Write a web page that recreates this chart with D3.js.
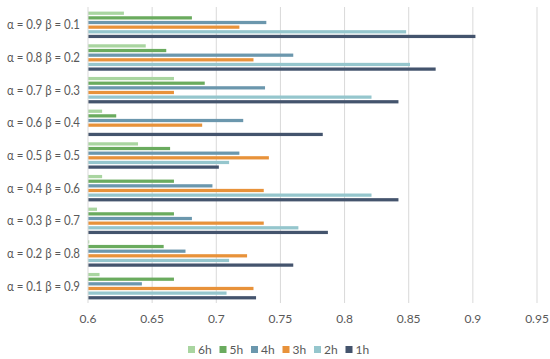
<!DOCTYPE html>
<html>
<head>
<meta charset="utf-8">
<script src="https://cdn.jsdelivr.net/npm/d3@7"></script>
<style>
    body { margin: 0; background: #fff; }
    svg { font-family: Lato, 'Liberation Sans', sans-serif; }
</style>
</head>
<body>
<div id="chart"></div>
<script>
// categories top to bottom
let groups = ['α = 0.9 β = 0.1', 'α = 0.8 β = 0.2', 'α = 0.7 β = 0.3', 'α = 0.6 β = 0.4',
    'α = 0.5 β = 0.5', 'α = 0.4 β = 0.6', 'α = 0.3 β = 0.7', 'α = 0.2 β = 0.8', 'α = 0.1 β = 0.9'];
let series = ['6h', '5h', '4h', '3h', '2h', '1h'];
let colors = ['#a9d5a0', '#6aab5e', '#6b97ad', '#e8923a', '#95c6cd', '#44546d'];

// values per series, same order as groups
let h6 = [0.628, 0.645, 0.667, 0.611, 0.639, 0.611, 0.607, 0.601, 0.609];
let h5 = [0.681, 0.661, 0.691, 0.622, 0.664, 0.667, 0.667, 0.659, 0.667];
let h4 = [0.739, 0.760, 0.738, 0.721, 0.718, 0.697, 0.681, 0.676, 0.642];
let h3 = [0.718, 0.729, 0.667, 0.689, 0.741, 0.737, 0.737, 0.724, 0.729];
let h2 = [0.848, 0.851, 0.821, 0.600, 0.710, 0.821, 0.764, 0.710, 0.708];
let h1 = [0.902, 0.871, 0.842, 0.783, 0.702, 0.842, 0.787, 0.760, 0.731];
let values = [h6, h5, h4, h3, h2, h1];

let xTicks = [0.6, 0.65, 0.7, 0.75, 0.8, 0.85, 0.9, 0.95];

let width = 550,
    height = 359;

let svg = d3.select('#chart')
    .append('svg')
    .attr('width', width)
    .attr('height', height);

let x = d3.scaleLinear()
    .domain([0.6, 0.95])
    .range([88, 537]);

let y = d3.scaleBand()
    .domain(groups)
    .range([8.5, 302.5])
    .paddingInner(0.19)
    .paddingOuter(0.095);

let ySub = d3.scaleBand()
    .domain(series)
    .range([0, y.bandwidth()])
    .paddingInner(0.3);

// gridlines
svg.append('g')
    .selectAll('line')
    .data(xTicks.slice(1))
    .enter()
    .append('line')
    .attr('x1', d => x(d))
    .attr('x2', d => x(d))
    .attr('y1', 7)
    .attr('y2', 303)
    .attr('stroke', '#d9d9d9')
    .attr('stroke-width', 1);

// bars
let groupG = svg.append('g')
    .selectAll('g')
    .data(groups)
    .enter()
    .append('g')
    .attr('transform', d => 'translate(0,' + y(d) + ')');

groupG.selectAll('rect')
    .data((g, gi) => series.map((s, si) => ({ s: s, si: si, v: values[si][gi] })))
    .enter()
    .append('rect')
    .attr('x', x(0.6))
    .attr('y', d => ySub(d.s))
    .attr('width', d => Math.max(0, x(d.v) - x(0.6)))
    .attr('height', ySub.bandwidth())
    .attr('fill', d => colors[d.si]);

// category axis line
svg.append('line')
    .attr('x1', x(0.6))
    .attr('x2', x(0.6))
    .attr('y1', 7)
    .attr('y2', 303)
    .attr('stroke', '#d9d9d9');

// category labels
svg.append('g')
    .selectAll('text')
    .data(groups)
    .enter()
    .append('text')
    .attr('x', 80)
    .attr('y', d => y(d) + y.bandwidth() / 2)
    .attr('dy', '0.35em')
    .attr('text-anchor', 'end')
    .attr('font-size', '12.5px')
    .attr('textLength', 73)
    .attr('lengthAdjust', 'spacingAndGlyphs')
    .attr('fill', '#595959')
    .text(d => d);

// x tick labels
svg.append('g')
    .selectAll('text')
    .data(xTicks)
    .enter()
    .append('text')
    .attr('x', d => x(d))
    .attr('y', 319)
    .attr('dy', '0.35em')
    .attr('text-anchor', 'middle')
    .attr('font-size', '12px')
    .attr('fill', '#595959')
    .text(d => d);

// legend
let legendX = 188;
let legend = svg.append('g')
    .selectAll('g')
    .data(series)
    .enter()
    .append('g')
    .attr('transform', (d, i) => 'translate(' + (legendX + i * 31.5) + ',350)');

legend.append('rect')
    .attr('x', 0)
    .attr('y', -4)
    .attr('width', 7)
    .attr('height', 7)
    .attr('fill', (d, i) => colors[i]);

legend.append('text')
    .attr('x', 10)
    .attr('y', 0)
    .attr('dy', '0.35em')
    .attr('font-size', '12px')
    .attr('fill', '#595959')
    .text(d => d);
</script>
</body>
</html>
